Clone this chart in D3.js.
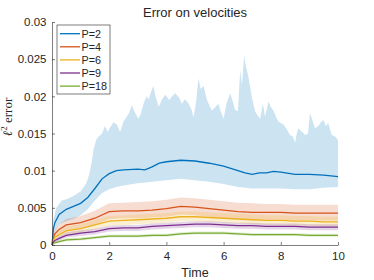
<!DOCTYPE html>
<html>
<head>
<meta charset="utf-8">
<script src="https://cdn.jsdelivr.net/npm/d3@7"></script>
<style>
  body { margin: 0; background: #fff; }
  text { font-family: "Liberation Sans", Arial, sans-serif; fill: #262626; }
</style>
</head>
<body>
<div id="chart"></div>
<script>
// P=2 : mean and lower bound on a common time grid
var t2 = [0, 0.05, 0.1, 0.25, 0.5, 0.75, 1, 1.25, 1.5, 1.75, 2, 2.25, 2.5, 3, 3.25, 3.5, 3.75, 4, 4.5, 5, 5.5, 6, 6.5, 6.75, 7, 7.25, 7.5, 7.75, 8, 8.5, 9, 9.5, 10]
var mean2 = [0, 0.0022, 0.0030, 0.0041, 0.0048, 0.0052, 0.0056, 0.0064, 0.0076, 0.0089, 0.0096, 0.0100, 0.0101, 0.0102, 0.0101, 0.0105, 0.0110, 0.0112, 0.0114, 0.0113, 0.0110, 0.0106, 0.0100, 0.0097, 0.0095, 0.0097, 0.0097, 0.0099, 0.0098, 0.0095, 0.0095, 0.0094, 0.0092]
var low2 = [0, 0.0012, 0.0018, 0.0028, 0.0032, 0.0035, 0.0040, 0.0048, 0.0060, 0.0070, 0.0075, 0.0078, 0.0080, 0.0083, 0.0084, 0.0085, 0.0086, 0.0087, 0.0089, 0.0087, 0.0085, 0.0082, 0.0078, 0.0077, 0.0076, 0.0076, 0.0076, 0.0076, 0.0076, 0.0075, 0.0075, 0.0077, 0.0078]

// P=2 : upper bound (spiky), its own time grid
var tUp2 = [0, 0.05, 0.15, 0.34, 0.53, 0.75, 1.0, 1.2, 1.3, 1.39, 1.45, 1.55, 1.63, 1.75, 1.85, 1.95, 2.03, 2.15, 2.27, 2.38, 2.5, 2.6, 2.7, 2.79, 2.88, 3.02, 3.1, 3.2, 3.3, 3.38, 3.48, 3.55, 3.62, 3.73, 3.85, 3.96, 4.1, 4.2, 4.31, 4.45, 4.54, 4.65, 4.78, 4.88, 4.95, 5.03, 5.12, 5.2, 5.3, 5.42, 5.5, 5.59, 5.7, 5.82, 5.9, 6.0, 6.1, 6.23, 6.3, 6.4, 6.5, 6.58, 6.64, 6.72, 6.78, 6.87, 6.99, 7.1, 7.2, 7.28, 7.37, 7.45, 7.57, 7.65, 7.74, 7.86, 7.92, 8.09, 8.2, 8.32, 8.42, 8.5, 8.56, 8.61, 8.75, 8.85, 8.95, 9.02, 9.1, 9.2, 9.31, 9.4, 9.49, 9.58, 9.66, 9.78, 9.9, 10]
var up2 = [0, 0.0035, 0.0050, 0.0060, 0.0062, 0.0066, 0.0072, 0.0083, 0.0095, 0.0112, 0.0128, 0.0142, 0.0146, 0.0150, 0.0160, 0.0152, 0.0158, 0.0165, 0.0162, 0.0152, 0.0166, 0.0172, 0.0178, 0.0188, 0.0180, 0.0170, 0.0176, 0.0190, 0.0200, 0.0196, 0.0208, 0.0214, 0.0200, 0.0186, 0.0196, 0.0202, 0.0195, 0.0200, 0.0204, 0.0198, 0.0190, 0.0196, 0.0190, 0.0182, 0.0172, 0.0190, 0.0224, 0.0210, 0.0214, 0.0195, 0.0188, 0.0181, 0.0185, 0.0190, 0.0180, 0.0170, 0.0190, 0.0204, 0.0196, 0.0182, 0.0180, 0.0235, 0.0215, 0.0255, 0.0240, 0.0226, 0.0198, 0.0180, 0.0174, 0.0170, 0.0190, 0.0173, 0.0193, 0.0186, 0.0181, 0.0170, 0.0166, 0.0162, 0.0156, 0.0148, 0.0146, 0.0138, 0.0150, 0.0157, 0.0152, 0.0148, 0.0150, 0.0178, 0.0168, 0.0157, 0.0160, 0.0165, 0.0168, 0.0160, 0.0164, 0.0148, 0.0146, 0.0141]

// other P values share one time grid
var tS = [0, 0.05, 0.1, 0.25, 0.5, 1, 1.5, 2, 2.5, 3, 3.5, 4, 4.5, 5, 5.5, 6, 6.5, 7, 7.5, 8, 8.5, 9, 9.5, 10]
var mean4 = [0, 0.0010, 0.0015, 0.0021, 0.0027, 0.0030, 0.0036, 0.0045, 0.0046, 0.0046, 0.0047, 0.0049, 0.0052, 0.0051, 0.0049, 0.0047, 0.0045, 0.0044, 0.0044, 0.0044, 0.0043, 0.0043, 0.0043, 0.0043]
var up4 = [0, 0.0014, 0.0020, 0.0028, 0.0035, 0.0039, 0.0046, 0.0056, 0.0057, 0.0058, 0.0059, 0.0061, 0.0064, 0.0063, 0.0061, 0.0059, 0.0057, 0.0056, 0.0055, 0.0055, 0.0054, 0.0054, 0.0054, 0.0054]
var low4 = [0, 0.0007, 0.0011, 0.0015, 0.0020, 0.0022, 0.0027, 0.0035, 0.0036, 0.0036, 0.0037, 0.0038, 0.0041, 0.0040, 0.0038, 0.0036, 0.0035, 0.0034, 0.0034, 0.0034, 0.0033, 0.0033, 0.0033, 0.0033]
var mean6 = [0, 0.0007, 0.0010, 0.0014, 0.0019, 0.0022, 0.0027, 0.0032, 0.0033, 0.0034, 0.0035, 0.0036, 0.0038, 0.0038, 0.0037, 0.0036, 0.0035, 0.0034, 0.0033, 0.0033, 0.0032, 0.0032, 0.0031, 0.0031]
var up6 = [0, 0.0009, 0.0013, 0.0019, 0.0025, 0.0028, 0.0034, 0.0039, 0.0040, 0.0041, 0.0042, 0.0043, 0.0045, 0.0045, 0.0044, 0.0043, 0.0042, 0.0041, 0.0040, 0.0040, 0.0039, 0.0039, 0.0038, 0.0038]
var low6 = [0, 0.0005, 0.0007, 0.0010, 0.0014, 0.0017, 0.0021, 0.0026, 0.0027, 0.0028, 0.0029, 0.0030, 0.0032, 0.0032, 0.0031, 0.0030, 0.0029, 0.0028, 0.0027, 0.0027, 0.0026, 0.0026, 0.0025, 0.0025]
var mean9 = [0, 0.0004, 0.0006, 0.0009, 0.0013, 0.0016, 0.0018, 0.0022, 0.0023, 0.0023, 0.0025, 0.0026, 0.0027, 0.0028, 0.0028, 0.0027, 0.0026, 0.0026, 0.0025, 0.0025, 0.0025, 0.0024, 0.0024, 0.0024]
var up9 = [0, 0.0006, 0.0008, 0.0012, 0.0017, 0.0020, 0.0022, 0.0026, 0.0027, 0.0027, 0.0029, 0.0030, 0.0031, 0.0032, 0.0032, 0.0031, 0.0030, 0.0030, 0.0029, 0.0029, 0.0029, 0.0028, 0.0028, 0.0028]
var low9 = [0, 0.0003, 0.0004, 0.0006, 0.0010, 0.0012, 0.0014, 0.0018, 0.0019, 0.0019, 0.0021, 0.0022, 0.0023, 0.0024, 0.0024, 0.0023, 0.0022, 0.0022, 0.0021, 0.0021, 0.0021, 0.0020, 0.0020, 0.0020]
var mean18 = [0, 0.0002, 0.0003, 0.00045, 0.0007, 0.0008, 0.0010, 0.0012, 0.0012, 0.0012, 0.0013, 0.0013, 0.0015, 0.0016, 0.0016, 0.0016, 0.0015, 0.0014, 0.0014, 0.0014, 0.0014, 0.0013, 0.0013, 0.0013]
var up18 = [0, 0.0003, 0.0005, 0.0007, 0.0009, 0.0010, 0.0012, 0.0014, 0.0014, 0.0014, 0.0015, 0.0015, 0.0017, 0.0018, 0.0018, 0.0018, 0.0017, 0.0016, 0.0016, 0.0016, 0.0016, 0.0015, 0.0015, 0.0015]
var low18 = [0, 0.0001, 0.0002, 0.0003, 0.0005, 0.0006, 0.0008, 0.0010, 0.0010, 0.0010, 0.0011, 0.0011, 0.0013, 0.0014, 0.0014, 0.0014, 0.0013, 0.0012, 0.0012, 0.0012, 0.0012, 0.0011, 0.0011, 0.0011]

var labels = ['P=2', 'P=4', 'P=6', 'P=9', 'P=18']
var colors = ['#0072bd', '#d95319', '#edb120', '#7e2f8e', '#77ac30']
var xTicks = [0, 2, 4, 6, 8, 10]
var yTicks = [0, 0.005, 0.01, 0.015, 0.02, 0.025, 0.03]

var series = [
  {t: t2, mean: mean2, tUp: tUp2, up: up2, tLow: t2, low: low2},
  {t: tS, mean: mean4, tUp: tS, up: up4, tLow: tS, low: low4},
  {t: tS, mean: mean6, tUp: tS, up: up6, tLow: tS, low: low6},
  {t: tS, mean: mean9, tUp: tS, up: up9, tLow: tS, low: low9},
  {t: tS, mean: mean18, tUp: tS, up: up18, tLow: tS, low: low18}
]

var width = 374
var height = 280
var margin = {top: 22, right: 36, bottom: 35, left: 52}

var x = d3.scaleLinear().domain([0, 10]).range([margin.left, width - margin.right])
var y = d3.scaleLinear().domain([0, 0.03]).range([height - margin.bottom, margin.top])

var svg = d3.select('#chart').append('svg')
    .attr('width', width)
    .attr('height', height)
    .style('display', 'block')

var line = d3.line()
    .x(d => x(d[0]))
    .y(d => y(d[1]))

function pts (ts, vs) {
  return ts.map((t, i) => [t, vs[i]])
}

// shaded bands: upper forward, lower backward
series.forEach(function (s, i) {
  var poly = pts(s.tUp, s.up).concat(pts(s.tLow, s.low).reverse())
  svg.append('path')
      .attr('d', line(poly) + 'Z')
      .attr('fill', colors[i])
      .attr('fill-opacity', 0.2)
      .attr('stroke', 'none')
})

series.forEach(function (s, i) {
  svg.append('path')
      .attr('d', line(pts(s.t, s.mean)))
      .attr('fill', 'none')
      .attr('stroke', colors[i])
      .attr('stroke-width', 1.3)
})

// axes (box off, ticks inside)
svg.append('g')
    .attr('transform', 'translate(0,' + y(0) + ')')
    .call(d3.axisBottom(x).tickValues(xTicks).tickSizeInner(-3).tickSizeOuter(0).tickPadding(7))
svg.append('g')
    .attr('transform', 'translate(' + x(0) + ',0)')
    .call(d3.axisLeft(y).tickValues(yTicks).tickSizeInner(-3).tickSizeOuter(0).tickPadding(5.5)
      .tickFormat(d => d === 0 ? '0' : String(+d.toFixed(3))))

svg.selectAll('.domain, .tick line').attr('stroke', '#262626').attr('stroke-width', 0.6)
svg.selectAll('.tick text').attr('font-size', 11.5).attr('fill', '#262626')
    .style('font-family', '"Liberation Sans", Arial, sans-serif')

svg.append('text')
    .attr('x', (x(0) + x(10)) / 2)
    .attr('y', 16.5)
    .attr('text-anchor', 'middle')
    .attr('font-size', 13)
    .text('Error on velocities')

svg.append('text')
    .attr('x', (x(0) + x(10)) / 2)
    .attr('y', 276.5)
    .attr('text-anchor', 'middle')
    .attr('font-size', 12.5)
    .text('Time')

var ylab = svg.append('text')
    .attr('transform', 'translate(12,117) rotate(-90)')
    .attr('text-anchor', 'middle')
    .style('font-family', '"Liberation Serif", "DejaVu Serif", serif')
    .attr('font-size', 13)
ylab.append('tspan').attr('font-style', 'italic').text('ℓ')
ylab.append('tspan').attr('font-size', 9).attr('dy', -5).text('2')
ylab.append('tspan').attr('dy', 5).text(' error')

// legend
var legend = svg.append('g').attr('transform', 'translate(57,25)')
legend.append('rect')
    .attr('width', 53)
    .attr('height', 69)
    .attr('fill', '#fff')
    .attr('stroke', '#262626')
    .attr('stroke-width', 0.6)
labels.forEach(function (lab, i) {
  var ly = 8.7 + i * 13.1
  legend.append('line')
      .attr('x1', 3).attr('x2', 23)
      .attr('y1', ly).attr('y2', ly)
      .attr('stroke', colors[i])
      .attr('stroke-width', 1.3)
  legend.append('text')
      .attr('x', 24.5)
      .attr('y', ly + 3.9)
      .attr('font-size', 10.8)
      .text(lab)
})
</script>
</body>
</html>
